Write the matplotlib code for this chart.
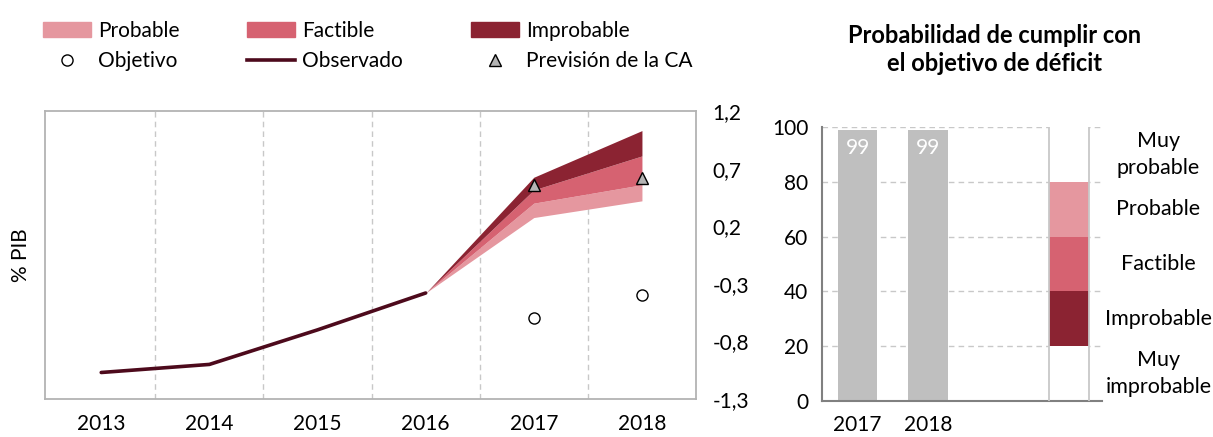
import numpy as np
import matplotlib.pyplot as plt
from matplotlib.patches import Patch
from matplotlib.lines import Line2D

plt.rcParams['font.family'] = ['Lato', 'DejaVu Sans']

# data ---------------------------------------------------------------
years = ['2013', '2014', '2015', '2016', '2017', '2018']
observado = [-1.07, -1.0, -0.70, -0.38]          # 2013-2016
fan_years = ['2016', '2017', '2018']
probable_low = [-0.38, 0.275, 0.42]
factible_low = [-0.38, 0.40, 0.56]
improbable_low = [-0.38, 0.515, 0.81]
improbable_high = [-0.38, 0.625, 1.03]
objetivo = [-0.60, -0.40]                         # 2017, 2018
prevision_ca = [0.56, 0.615]                      # 2017, 2018
y_ticks = [-1.3, -0.8, -0.3, 0.2, 0.7, 1.2]

bar_years = ['2017', '2018']
prob_cumplir = [99, 99]
scale_labels = ['Muy\nimprobable', 'Improbable', 'Factible', 'Probable', 'Muy\nprobable']
scale_edges = [0, 20, 40, 60, 80, 100]

c_prob = '#e5979f'
c_fact = '#d66271'
c_impr = '#8b2332'
c_obs = '#4d0a1c'
c_grid = '#c8c8c8'
c_bar = '#bfbfbf'

fig = plt.figure(figsize=(12.13, 4.37), dpi=100)

# left panel ---------------------------------------------------------
ax = fig.add_axes([0.0371, 0.087, 0.5367, 0.659])
x = np.arange(len(years))
xf = np.array([years.index(y) for y in fan_years])

ax.fill_between(xf, probable_low, factible_low, color=c_prob, lw=0)
ax.fill_between(xf, factible_low, improbable_low, color=c_fact, lw=0)
ax.fill_between(xf, improbable_low, improbable_high, color=c_impr, lw=0)
ax.plot(x[:len(observado)], observado, color=c_obs, lw=2.6, solid_capstyle='round', zorder=3)
ax.plot(xf[1:], objetivo, 'o', ms=8, mfc='white', mec='black', mew=1, zorder=4)
ax.plot(xf[1:], prevision_ca, '^', ms=9, mfc='#b4b4b4', mec='black', mew=1, zorder=4)

for b in x[:-1] + 0.5:
    ax.axvline(b, color=c_grid, ls=(0, (4, 3)), lw=1, zorder=0)

ax.set_xlim(-0.52, 5.5)
ax.set_ylim(-1.3, 1.2)
ax.set_xticks(x)
ax.set_xticklabels(years)
ax.set_yticks(y_ticks)
ax.set_yticklabels([f'{v:.1f}'.replace('.', ',') for v in y_ticks])
ax.yaxis.tick_right()
ax.tick_params(axis='both', length=0, labelsize=15)
ax.tick_params(axis='x', pad=11)
ax.tick_params(axis='y', pad=12)
for s in ax.spines.values():
    s.set_color('#b3b3b3')
    s.set_linewidth(1.3)
ax.set_ylabel('% PIB', fontsize=15, labelpad=10)
ax.yaxis.set_label_position('left')

handles = [
    Patch(color=c_prob, label='Probable'),
    Line2D([], [], ls='none', marker='o', ms=8, mfc='white', mec='black', label='Objetivo'),
    Patch(color=c_fact, label='Factible'),
    Line2D([], [], color=c_obs, lw=2.6, label='Observado'),
    Patch(color=c_impr, label='Improbable'),
    Line2D([], [], ls='none', marker='^', ms=9, mfc='#b4b4b4', mec='black', label='Previsión de la CA'),
]
fig.legend(handles=handles, ncol=3, loc='upper left', bbox_to_anchor=(0.0215, 0.99),
           frameon=False, fontsize=15, handlelength=2.3, handleheight=0.7,
           handletextpad=0.35, columnspacing=3.25, labelspacing=0.5, borderpad=0.3)

# right panel --------------------------------------------------------
bx = fig.add_axes([0.678, 0.0824, 0.2308, 0.627])
xb = np.arange(len(bar_years))
bw = 0.56
for yv in scale_edges[1:]:
    bx.axhline(yv, color=c_grid, ls=(0, (4, 3)), lw=1, zorder=0)
bx.bar(xb, prob_cumplir, width=bw, color=c_bar, zorder=2)
for xi, v in zip(xb, prob_cumplir):
    bx.text(xi, v - 3, str(v), ha='center', va='top', color='white', fontsize=15, zorder=3)

scale_x = 3
seg_colors = ['white', c_impr, c_fact, c_prob, 'white']
for lo, hi, col in zip(scale_edges[:-1], scale_edges[1:], seg_colors):
    bx.bar(scale_x, hi - lo, bottom=lo, width=bw, color=col, lw=0, zorder=2)
bx.vlines([scale_x - bw / 2, scale_x + bw / 2], 0, 100, color=c_grid, lw=1.3, zorder=3)
for lo, hi, lab in zip(scale_edges[:-1], scale_edges[1:], scale_labels):
    bx.text(1.2, (lo + hi) / 2, lab, transform=bx.get_yaxis_transform(),
            ha='center', va='center', fontsize=15.5, linespacing=1.45)

bx.set_xlim(-0.5, 3.47)
bx.set_ylim(0, 100)
bx.set_xticks(xb)
bx.set_xticklabels(bar_years)
bx.set_yticks(scale_edges)
bx.tick_params(axis='both', length=0, labelsize=15)
bx.tick_params(axis='x', pad=10)
bx.tick_params(axis='y', pad=10)
for s in ['top', 'right']:
    bx.spines[s].set_visible(False)
for s in ['left', 'bottom']:
    bx.spines[s].set_color('#808080')
    bx.spines[s].set_linewidth(1.5)

fig.text(0.82, 0.887, 'Probabilidad de cumplir con\nel objetivo de déficit',
         ha='center', va='center', fontsize=17, fontweight='bold', linespacing=1.3)

fig.savefig('out.png', dpi=100)
